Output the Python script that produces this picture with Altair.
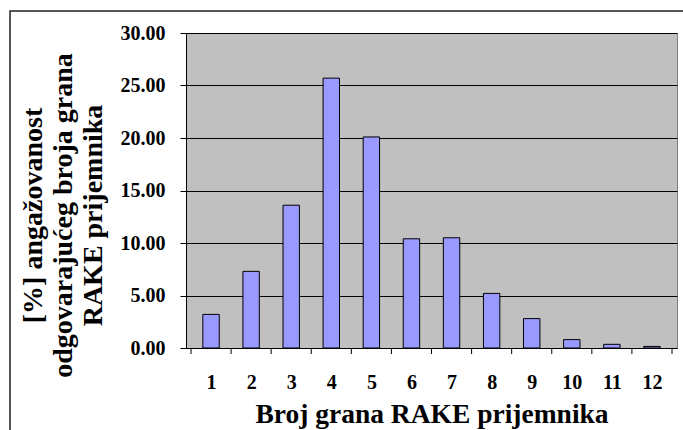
import altair as alt
import pandas as pd

categories = list(range(1, 13))
values = [3.2, 7.3, 13.6, 25.7, 20.1, 10.4, 10.5, 5.2, 2.8, 0.8, 0.35, 0.15]
boundaries = [0.5 + i for i in range(13)]
y_ticks = [0, 5, 10, 15, 20, 25, 30]
x_title = "Broj grana RAKE prijemnika"
y_title = ["[%] angažovanost", "odgovarajućeg broja grana", "RAKE prijemnika"]

df = pd.DataFrame({"broj": categories, "pct": values})
bdf = pd.DataFrame({"b": boundaries})
one = pd.DataFrame({"a": [0]})

W, H = 491, 315
FONT = "Times New Roman, Liberation Serif, serif"

xscale = alt.Scale(domain=[0.5, 12.5], nice=False, zero=False)
yscale = alt.Scale(domain=[0, 30], nice=False)

bars = alt.Chart(df).mark_bar(size=16.4, color="#9999FF", stroke="black", strokeWidth=1).encode(
    x=alt.X("broj:Q", scale=xscale, axis=alt.Axis(
        values=categories, format="d", ticks=False, tickSize=0, grid=False,
        labelPadding=40, labelBaseline="alphabetic", labelFontSize=20, labelFont=FONT,
        labelFontWeight="bold", labelColor="black", labelFlush=False,
        domainColor="black", domainWidth=1,
        title=x_title, titleFont=FONT, titleFontSize=27.5, titleFontWeight="bold",
        titleColor="black", titleY=74, titleBaseline="alphabetic")),
    y=alt.Y("pct:Q", scale=yscale, axis=alt.Axis(
        values=y_ticks, format=".2f", tickSize=6, tickColor="black", tickWidth=1,
        labelPadding=15, labelFontSize=20, labelFont=FONT, labelFontWeight="bold",
        labelColor="black", labelFlush=False, domainColor="black", domainWidth=1,
        grid=True, gridColor="black", gridWidth=1,
        title=y_title, titleFont=FONT, titleFontSize=28, titleFontWeight="bold",
        titleColor="black", titleAngle=270, titleX=-145, titleY=182,
        titleAlign="center", titleBaseline="alphabetic", titleLineHeight=30)),
)

ticks = alt.Chart(bdf).mark_rule(color="black", strokeWidth=1).encode(
    x=alt.X("b:Q", scale=xscale, title=x_title),
    y=alt.value(H),
    y2=alt.value(H + 6),
)

border = alt.Chart(one).mark_rect(fill="transparent", stroke="#222222", strokeWidth=1.5).encode(
    x=alt.value(-176), x2=alt.value(W + 60), y=alt.value(-22), y2=alt.value(H + 200)
)

chart = alt.layer(bars, ticks, border).properties(
    width=W, height=H,
    autosize=alt.AutoSizeParams(type="none"),
    padding={"left": 186, "top": 33, "right": 6, "bottom": 82},
    background="white",
).configure_view(fill="#C0C0C0", stroke="#808080", strokeWidth=1)

chart.save("out.html", embed_options={"renderer": "svg", "actions": False})
